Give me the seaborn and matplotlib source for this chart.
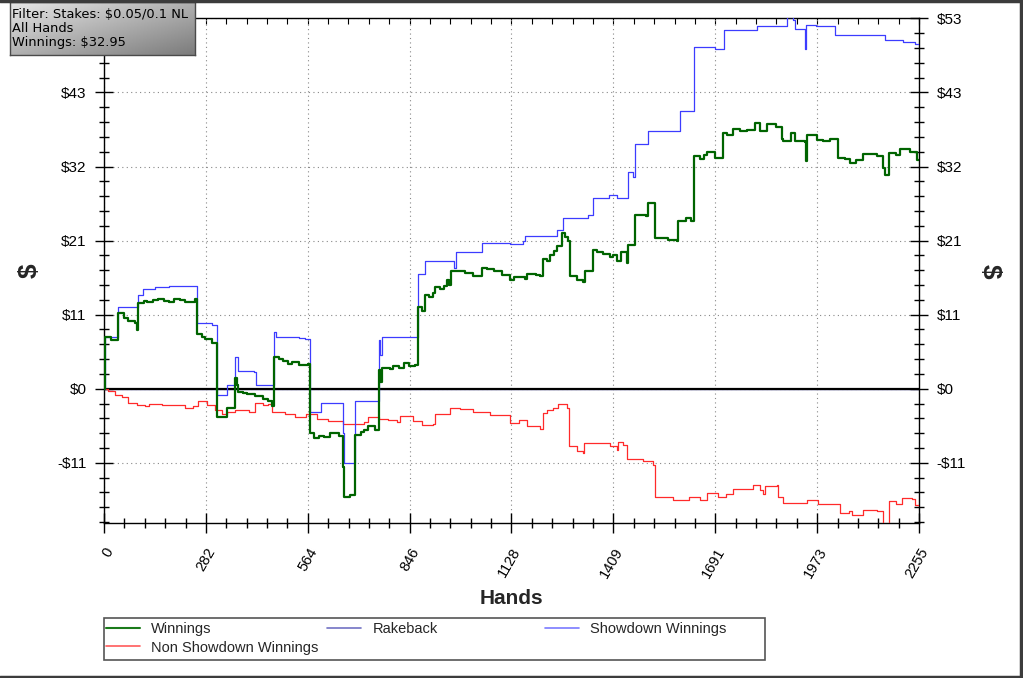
import numpy as np
import pandas as pd
import matplotlib
matplotlib.use("Agg")
import matplotlib.pyplot as plt
from matplotlib.lines import Line2D
from matplotlib.patches import Rectangle
from matplotlib.colors import LinearSegmentedColormap
from matplotlib.ticker import FixedLocator, MultipleLocator
import seaborn as sns

# cumulative winnings per hand (step changes)
win_x = [0, 3, 20, 40, 55, 67, 85, 90, 93, 110, 120, 135, 150, 165, 180, 195, 210, 225, 235, 252, 256, 270, 280, 300,
         312, 335, 340, 362, 368, 372, 385, 395, 418, 440, 455, 464, 471, 485, 495, 510, 520, 540, 565,
         570, 580, 595, 610, 625, 650, 662, 665, 680, 694, 710, 720, 731, 750, 761, 764, 768, 790,
         800, 815, 830, 845, 860, 870, 880, 888, 900, 910, 916, 930, 940, 948, 955, 960, 985, 1000, 1022, 1045,
         1060, 1080, 1100, 1123, 1135, 1150, 1165, 1170, 1195, 1206, 1216, 1225, 1235, 1245, 1253, 1266, 1275, 1285, 1289,
         1310, 1326, 1330, 1350, 1354, 1365, 1380, 1400, 1409, 1420, 1430, 1446, 1451, 1469, 1500,
         1506, 1525, 1560, 1585, 1589, 1610, 1625, 1633, 1650, 1660, 1668, 1691, 1714, 1725, 1740, 1760, 1778,
         1800, 1815, 1834, 1860, 1875, 1880, 1900, 1912, 1940, 1942, 1944, 1972, 1990, 2009, 2032,
         2050, 2064, 2080, 2101, 2140, 2156, 2161, 2173, 2190, 2203, 2230, 2250, 2255]
win_y = [0, 7.5, 7.0, 10.9, 10.2, 9.7, 9.5, 8.5, 12.3, 12.6, 12.4, 12.8, 12.9, 12.6, 12.5, 12.9, 12.8, 12.5, 12.4, 12.9, 7.8, 7.5, 7.2, 6.6,
         -4.0, -4.1, -2.7, 1.6, 0.5, -0.4, -0.6, -0.8, -1.1, -1.5, -1.8, -2.5, 4.6, 4.3, 4.0, 3.6, 3.8, 3.4, 3.5,
         -6.4, -7.1, -6.8, -7.0, -6.4, -6.8, -11.2, -15.5, -15.3, -6.6, -6.2, -5.9, -5.4, -5.9, 2.7, 0.9, 3.0, 2.8,
         3.2, 3.0, 3.7, 3.3, 3.4, 11.8, 11.2, 13.5, 13.2, 13.8, 14.6, 14.4, 14.8, 15.7, 14.9, 16.9, 16.9, 16.6, 16.2, 17.4,
         17.2, 16.9, 16.3, 15.7, 16.0, 16.1, 15.8, 16.5, 16.4, 16.2, 18.7, 18.3, 19.2, 19.8, 20.5, 22.4, 21.8, 21.2, 16.2,
         15.7, 15.3, 17.0, 17.0, 20.0, 19.7, 19.4, 18.9, 19.3, 18.4, 19.6, 18.1, 20.7, 25.0, 24.8,
         26.7, 21.7, 21.4, 21.2, 24.1, 24.5, 24.1, 33.4, 33.0, 33.6, 34.0, 33.2, 36.8, 36.5, 37.3, 37.0, 37.2,
         38.2, 37.0, 38.1, 37.7, 35.9, 35.6, 36.8, 35.6, 35.5, 32.7, 36.5, 35.7, 35.6, 35.9, 33.2,
         33.0, 32.5, 32.9, 33.7, 33.4, 31.8, 30.8, 33.9, 33.6, 34.4, 34.0, 32.95, 32.95]

sd_x = [0, 3, 40, 93, 107, 140, 180, 252, 257, 300, 312, 340, 363, 372, 415, 420, 471, 475,
        540, 555, 570, 600, 662, 665, 695, 761, 764, 768, 870, 888, 930, 968, 974, 1045, 1123,
        1160, 1165, 1253, 1269, 1340, 1354, 1398, 1420, 1451, 1465, 1468, 1506, 1594, 1633,
        1691, 1716, 1808, 1889, 1907, 1912, 1940, 1942, 1970, 2023, 2161, 2210, 2245, 2255]
sd_y = [0, 7.5, 11.8, 13.5, 14.3, 14.6, 14.8, 14.8, 9.5, 9.2, -0.9, 0.6, 4.6, 2.5, 2.4, 0.6, 8.1, 7.4,
        7.3, 7.1, -3.3, -2.0, -6.4, -10.7, -1.7, 7.0, 4.9, 7.4, 16.5, 18.3, 18.4, 17.4, 19.6, 20.9, 20.8,
        21.3, 22.0, 22.8, 24.6, 25.0, 27.4, 27.9, 27.4, 31.2, 30.5, 35.2, 37.1, 39.9, 49.1,
        48.9, 51.6, 52.1, 53.4, 53.0, 51.7, 48.8, 52.3, 52.1, 50.9, 50.1, 49.9, 49.6, 49.5]

nsd_x = [0, 12, 30, 50, 67, 90, 113, 125, 160, 200, 224, 245, 261, 285, 307, 326, 340, 362,
         400, 418, 440, 455, 464, 500, 528, 560, 590, 621, 660, 694, 720, 731, 760, 787, 810,
         819, 856, 879, 911, 916, 957, 985, 1022, 1068, 1123, 1147, 1170, 1206, 1216, 1225,
         1243, 1257, 1280, 1287, 1308, 1326, 1328, 1354, 1400, 1419, 1423, 1437, 1446, 1492,
         1520, 1525, 1575, 1620, 1649, 1668, 1700, 1720, 1741, 1797, 1815, 1824, 1830, 1861,
         1866, 1880, 1944, 1975, 2009, 2036, 2060, 2070, 2101, 2140, 2156, 2173, 2190, 2207,
         2235, 2245, 2255]
nsd_y = [0, -0.3, -0.9, -1.2, -2.1, -2.4, -2.5, -2.2, -2.3, -2.4, -2.7, -2.5, -1.8, -2.4, -3.0, -3.6, -3.3, -3.1,
         -3.4, -2.0, -2.4, -2.2, -3.3, -3.7, -4.0, -3.6, -4.3, -4.7, -5.0, -5.0, -4.8, -4.0, -4.3, -4.5, -4.8,
         -3.9, -4.6, -5.2, -5.0, -3.7, -2.8, -2.9, -3.3, -3.8, -4.9, -4.5, -5.3, -5.8, -3.5, -3.1,
         -2.8, -2.2, -2.8, -8.3, -9.0, -9.3, -7.8, -7.8, -8.3, -8.8, -7.6, -8.1, -10.1, -10.4,
         -10.9, -15.6, -16.0, -15.6, -16.0, -15.0, -15.6, -15.2, -14.4, -13.8, -14.6, -15.2, -14.0, -13.9,
         -15.5, -16.4, -16.0, -16.6, -16.5, -17.9, -17.6, -18.1, -17.4, -17.6, -19.4, -16.2, -16.5, -15.7,
         -15.9, -16.7, -16.8]

rb_x = [0, 2255]
rb_y = [0, 0]

x_tick_labels = ["0", "282", "564", "846", "1128", "1409", "1691", "1973", "2255"]
y_tick_labels = ["-$11", "$0", "$11", "$21", "$32", "$43", "$53"]
info_lines = ["Filter: Stakes: $0.05/0.1 NL", "All Hands", "Winnings: $32.95"]
series_names = ["Winnings", "Non Showdown Winnings", "Rakeback", "Showdown Winnings"]

sns.set_style("white")
plt.rcParams["font.family"] = ["Liberation Sans", "DejaVu Sans"]
plt.rcParams["text.parse_math"] = False

W, H = 1023, 678
fig = plt.figure(figsize=(W / 100, H / 100), dpi=100)
ax = fig.add_axes([104 / W, 1 - 523 / H, 815 / W, 505 / H])

ax.axhline(0, color="black", lw=1.6, zorder=3)
sns.lineplot(x=rb_x, y=rb_y, ax=ax, color="#5a5ab4", lw=1.0, estimator=None, sort=False, zorder=2)
sns.lineplot(x=nsd_x, y=nsd_y, ax=ax, color="#ff2a2a", lw=0.9, drawstyle="steps-post",
             estimator=None, sort=False, zorder=4)
sns.lineplot(x=sd_x, y=sd_y, ax=ax, color="#3c3cff", lw=0.9, drawstyle="steps-post",
             estimator=None, sort=False, zorder=4)
sns.lineplot(x=win_x, y=win_y, ax=ax, color="#006400", lw=1.6, drawstyle="steps-post",
             estimator=None, sort=False, zorder=5)

step = 10.65
ax.set_xlim(0, 2255)
ax.set_ylim(-19.3, 53.3)
ax.set_xticks(np.linspace(0, 2255, 9))
ax.set_xticklabels(x_tick_labels)
ax.xaxis.set_minor_locator(FixedLocator(np.linspace(0, 2255, 41)))
ax.set_yticks(np.arange(-1, 6) * step)
ax.set_yticklabels(y_tick_labels)
ax.yaxis.set_minor_locator(MultipleLocator(step / 5))
ax.set_xlabel("")
ax.set_ylabel("")

ax.grid(True, which="major", color="#888888", linestyle=(0, (1, 3)), lw=0.8)
for s in ax.spines.values():
    s.set_color("black")
    s.set_linewidth(1.0)

ax.tick_params(axis="y", which="both", left=True, right=True, labelleft=True, labelright=True,
               direction="inout", colors="black", labelsize=11, pad=6)
ax.tick_params(axis="y", which="major", length=13, width=1)
ax.tick_params(axis="y", which="minor", length=7, width=1)
ax.tick_params(axis="x", which="both", bottom=True, direction="inout", colors="black", labelsize=10.5)
ax.tick_params(axis="x", which="major", length=14, width=1, pad=9)
ax.tick_params(axis="x", which="minor", length=7, width=1)
for lab in ax.get_xticklabels():
    lab.set_rotation(60)
    lab.set_ha("right")
    lab.set_va("top")
    lab.set_rotation_mode("anchor")
# the top-left label sits under the info box in the original
ax.yaxis.get_major_ticks()[-1].label1.set_visible(False)

top = ax.secondary_xaxis("top")
top.set_xticks(np.linspace(0, 2255, 41))
top.tick_params(direction="in", length=4, labeltop=False, colors="black")
top.spines["top"].set_visible(False)

fig.text(511.5 / W, 1 - 598 / H, "Hands", ha="center", va="center", fontsize=15, fontweight="bold")
fig.text(30 / W, 1 - 271 / H, "$", ha="center", va="center", fontsize=19, fontweight="bold", rotation=90)
fig.text(990 / W, 1 - 271 / H, "$", ha="center", va="center", fontsize=19, fontweight="bold", rotation=270)

# legend: three fixed-width columns inside one box
handles = [Line2D([], [], color="#1a7a1a", lw=1.5), Line2D([], [], color="#ff5a5a", lw=1.2),
           Line2D([], [], color="#7272c4", lw=1.2), Line2D([], [], color="#7a7aff", lw=1.2)]
groups = [(slice(0, 2), 104), (slice(2, 3), 325), (slice(3, 4), 543)]
for sl, xpx in groups:
    fig.legend(handles[sl], series_names[sl], loc="upper left",
               bbox_to_anchor=(xpx / W, 1 - 620 / H), frameon=False, borderaxespad=0,
               borderpad=0.15, handlelength=2.3, handletextpad=0.8, labelspacing=0.3,
               fontsize=10.5)
fig.patches.append(Rectangle((104 / W, 1 - 660 / H), 661 / W, 42 / H, transform=fig.transFigure,
                             fill=False, edgecolor="#555555", lw=1.2))

# info box with grey gradient
bax = fig.add_axes([10 / W, 1 - 55 / H, 185 / W, 53 / H])
grad = np.add.outer(np.linspace(0, 1, 40), np.linspace(0, 1, 160)) / 2
cmap = LinearSegmentedColormap.from_list("box", ["#e6e6e6", "#7c7c7c"])
bax.imshow(grad, cmap=cmap, aspect="auto", extent=(0, 1, 0, 1), origin="upper")
bax.set_xlim(0, 1)
bax.set_ylim(0, 1)
bax.set_xticks([])
bax.set_yticks([])
for s in bax.spines.values():
    s.set_color("#4a4a4a")
    s.set_linewidth(1.0)
bax.text(0.012, 0.5, "\n".join(info_lines), ha="left", va="center", fontsize=9.4,
         family=["DejaVu Sans"], color="black", linespacing=1.12)

# figure frame on top, right and bottom
for xs, ys in [([0, 1], [0.998, 0.998]), ([0.998, 0.998], [0, 1]), ([0, 1], [0.002, 0.002])]:
    fig.add_artist(Line2D(xs, ys, transform=fig.transFigure, color="#3c3c3c", lw=2.5))

fig.savefig("out.png", dpi=100, facecolor="white")
